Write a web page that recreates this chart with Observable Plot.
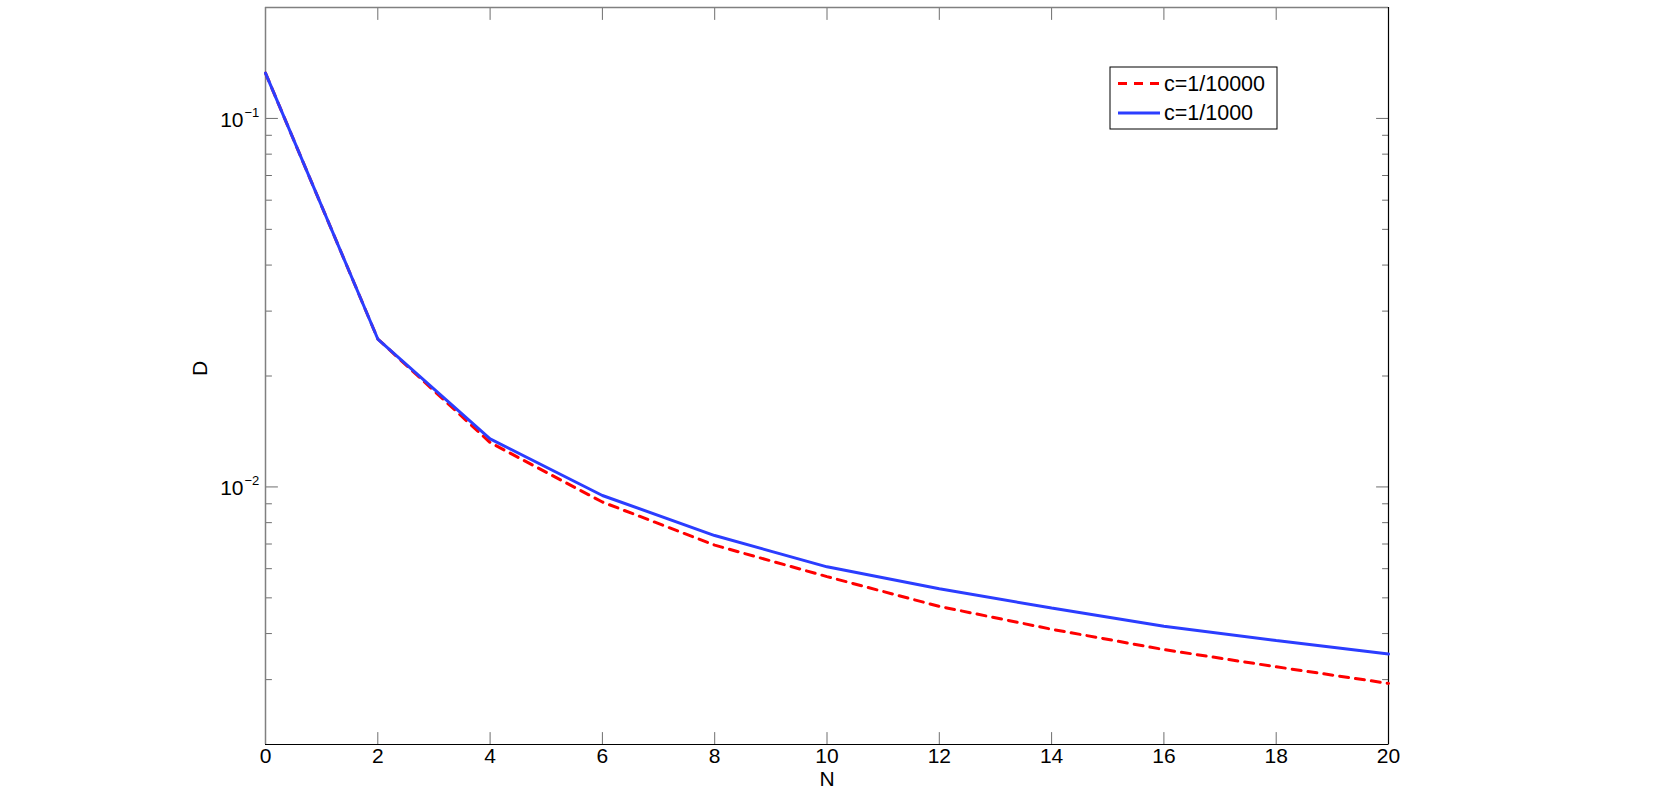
<!DOCTYPE html>
<html>
<head>
<meta charset="utf-8">
<script src="https://cdn.jsdelivr.net/npm/d3@7"></script>
<script src="https://cdn.jsdelivr.net/npm/@observablehq/plot@0.6"></script>
<style>
html, body { margin: 0; padding: 0; background: #fff; }
#chart { width: 1661px; height: 804px; }
</style>
</head>
<body>
<div id="chart"></div>
<script>
// ---- data ----
const nValues = [0, 2, 4, 6, 8, 10, 12, 14, 16, 18, 20];
const seriesNames = ["c=1/10000", "c=1/1000"];
const dC10000 = [0.1327, 0.0252, 0.0132, 0.0091, 0.00695, 0.00571, 0.00474, 0.00411, 0.00362, 0.00325, 0.00293];
const dC1000  = [0.1327, 0.0252, 0.0135, 0.00948, 0.00738, 0.00607, 0.00529, 0.00469, 0.00419, 0.00383, 0.00352];
const xTicks = [0, 2, 4, 6, 8, 10, 12, 14, 16, 18, 20];
const xTickLabels = ["0", "2", "4", "6", "8", "10", "12", "14", "16", "18", "20"];
const yMajorTicks = [0.01, 0.1];
const yMajorExponents = ["\u22122", "\u22121"];
const yMinorTicks = [0.002, 0.003, 0.004, 0.005, 0.006, 0.007, 0.008, 0.009,
                     0.02, 0.03, 0.04, 0.05, 0.06, 0.07, 0.08, 0.09, 0.2];
const xLabel = "N";
const yLabel = "D";
const seriesColors = ["#ff0000", "#2b3dff"];
const seriesDash = ["9,7", null];

// ---- build table ----
const rows = [];
seriesNames.forEach((s, si) => {
  const vals = si === 0 ? dC10000 : dC1000;
  nValues.forEach((n, i) => rows.push({series: s, N: n, D: vals[i]}));
});

const tickShape = {draw(ctx, l) { ctx.moveTo(0, 0); ctx.lineTo(0, -l); }};
const tickColor = "#6e6e6e";
const font = "'Liberation Sans', Arial, Helvetica, sans-serif";

const chart = Plot.plot({
  width: 1661,
  height: 804,
  marginLeft: 265,
  marginRight: 273,
  marginTop: 7,
  marginBottom: 60,
  style: {fontFamily: font, fontSize: "21px", background: "#fff", color: "#000"},
  x: {domain: [0, 20], axis: null},
  y: {type: "log", domain: [0.002, 0.2], axis: null},
  marks: [
    // ticks (inward) on all four sides
    Plot.vector(xTicks.slice(1, -1), {x: d => d, frameAnchor: "bottom", length: 12, anchor: "start", shape: tickShape, stroke: tickColor, strokeWidth: 1}),
    Plot.vector(xTicks.slice(1, -1), {x: d => d, frameAnchor: "top", length: 12, rotate: 180, anchor: "start", shape: tickShape, stroke: tickColor, strokeWidth: 1}),
    Plot.vector(yMajorTicks, {y: d => d, frameAnchor: "left", length: 12, rotate: 90, anchor: "start", shape: tickShape, stroke: tickColor, strokeWidth: 1}),
    Plot.vector(yMinorTicks, {y: d => d, frameAnchor: "left", length: 6, rotate: 90, anchor: "start", shape: tickShape, stroke: tickColor, strokeWidth: 1}),
    Plot.vector(yMajorTicks, {y: d => d, frameAnchor: "right", length: 12, rotate: -90, anchor: "start", shape: tickShape, stroke: tickColor, strokeWidth: 1}),
    Plot.vector(yMinorTicks, {y: d => d, frameAnchor: "right", length: 6, rotate: -90, anchor: "start", shape: tickShape, stroke: tickColor, strokeWidth: 1}),
    // frame edges
    Plot.ruleX([0], {stroke: "#808080", strokeWidth: 1.5}),
    Plot.ruleY([0.2], {stroke: "#808080", strokeWidth: 1.5}),
    Plot.ruleX([20], {stroke: "#000", strokeWidth: 1.2}),
    Plot.ruleY([0.002], {stroke: "#000", strokeWidth: 1.2}),
    // tick labels
    Plot.text(xTicks, {x: d => d, frameAnchor: "bottom", dy: 18.5, text: (d, i) => xTickLabels[i], fill: "#000", fontSize: 21}),
    Plot.text(yMajorTicks, {y: d => d, frameAnchor: "left", dx: -22, dy: 1.5, textAnchor: "end", text: () => "10", fill: "#000", fontSize: 21}),
    Plot.text(yMajorTicks, {y: d => d, frameAnchor: "left", dx: -21, dy: -6, textAnchor: "start", text: (d, i) => yMajorExponents[i], fill: "#000", fontSize: 13}),
    // axis labels
    Plot.text([xLabel], {frameAnchor: "bottom", dy: 41, text: d => d, fill: "#000", fontSize: 21}),
    Plot.text([yLabel], {frameAnchor: "left", dx: -65, rotate: -90, text: d => d, fill: "#000", fontSize: 21}),
    // series
    Plot.line(rows.filter(r => r.series === seriesNames[0]), {x: "N", y: "D", stroke: seriesColors[0], strokeWidth: 3, strokeDasharray: seriesDash[0], strokeLinejoin: "miter"}),
    Plot.line(rows.filter(r => r.series === seriesNames[1]), {x: "N", y: "D", stroke: seriesColors[1], strokeWidth: 3, strokeLinejoin: "miter"})
  ]
});

document.getElementById("chart").appendChild(chart);

// ---- legend inside plot (top right) ----
const xr = chart.scale("x").range;
const yr = chart.scale("y").range;
const frameRight = Math.max(...xr);
const frameTop = Math.min(...yr);
const lg = d3.select(chart).append("g").attr("transform", `translate(${frameRight - 278},${frameTop + 60})`);
lg.append("rect").attr("x", 0).attr("y", 0).attr("width", 167).attr("height", 62)
  .attr("fill", "#fff").attr("stroke", "#000").attr("stroke-width", 1);
seriesNames.forEach((name, i) => {
  const cy = 16.5 + i * 29.4;
  lg.append("line").attr("x1", 8).attr("x2", 50).attr("y1", cy).attr("y2", cy)
    .attr("stroke", seriesColors[i]).attr("stroke-width", 3)
    .attr("stroke-dasharray", seriesDash[i]);
  lg.append("text").attr("x", 54).attr("y", cy).attr("dy", "0.35em")
    .attr("text-anchor", "start")
    .attr("font-family", font).attr("font-size", 21.5).attr("fill", "#000").text(name);
});
</script>
</body>
</html>
